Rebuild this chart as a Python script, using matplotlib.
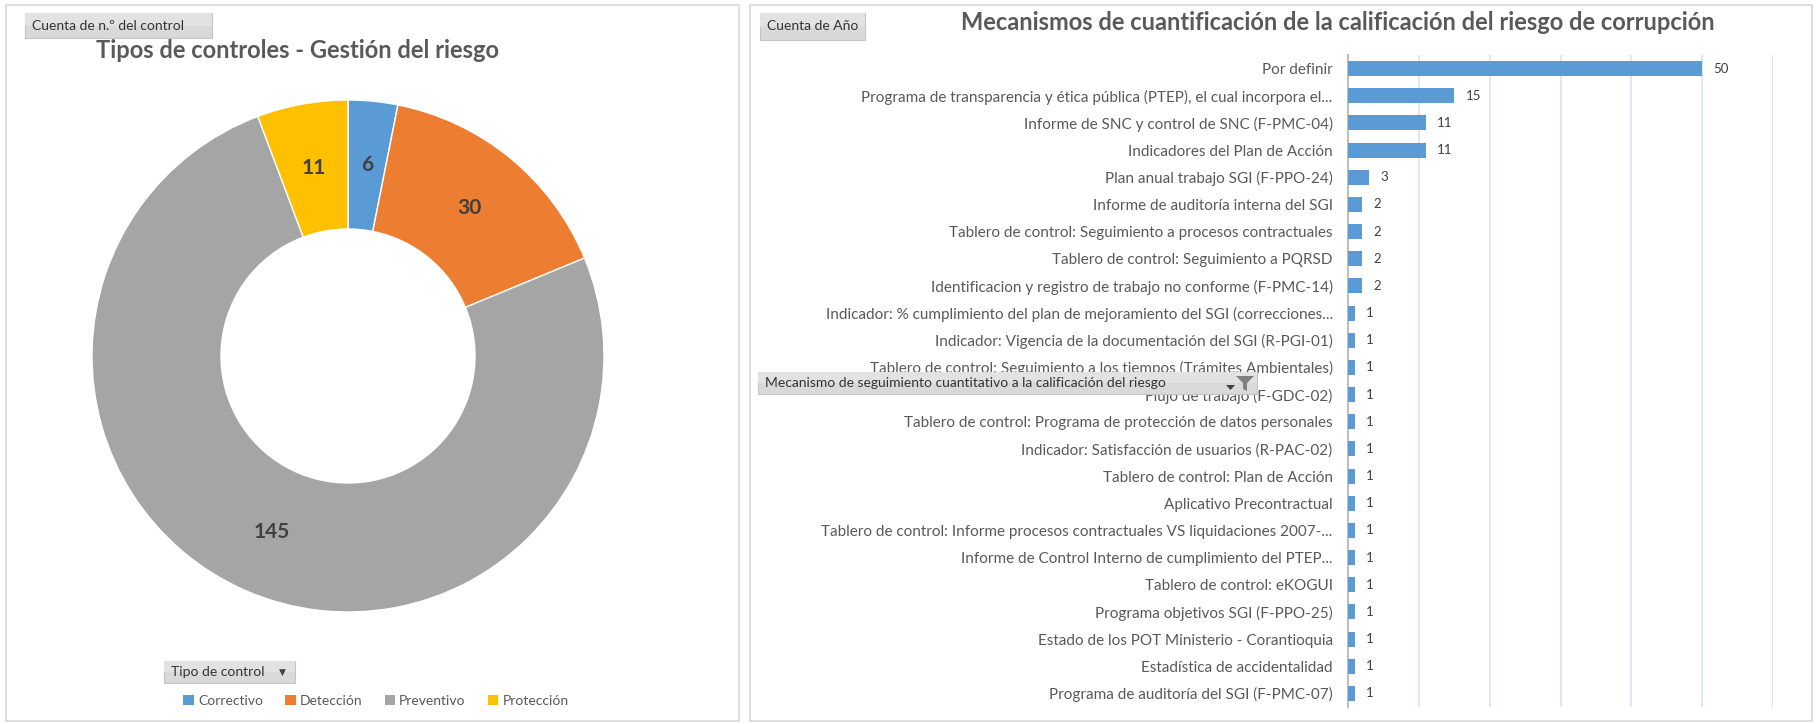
import matplotlib
matplotlib.use("Agg")
import numpy as np
import matplotlib.pyplot as plt
from matplotlib.patches import Rectangle, Polygon
from matplotlib.transforms import Affine2D

plt.rcParams['font.family'] = ['Lato', 'DejaVu Sans']

# ---------------------------- data
tipos = ['Correctivo', 'Detección', 'Preventivo', 'Protección']
tipos_cuenta = [6, 30, 145, 11]
tipos_colores = ['#5B9BD5', '#ED7D31', '#A5A5A5', '#FFC000']

mecanismos = [
    'Por definir',
    'Programa de transparencia y ética pública (PTEP), el cual incorpora el...',
    'Informe de SNC y control de SNC (F-PMC-04)',
    'Indicadores del Plan de Acción',
    'Plan anual trabajo SGI (F-PPO-24)',
    'Informe de auditoría interna del SGI',
    'Tablero de control: Seguimiento a procesos contractuales',
    'Tablero de control: Seguimiento a PQRSD',
    'Identificacion y registro de trabajo no conforme (F-PMC-14)',
    'Indicador: % cumplimiento del plan de mejoramiento del SGI (correcciones...',
    'Indicador: Vigencia de la documentación del SGI (R-PGI-01)',
    'Tablero de control: Seguimiento a los tiempos (Trámites Ambientales)',
    'Flujo de trabajo (F-GDC-02)',
    'Tablero de control: Programa de protección de datos personales',
    'Indicador: Satisfacción de usuarios (R-PAC-02)',
    'Tablero de control: Plan de Acción',
    'Aplicativo Precontractual',
    'Tablero de control: Informe procesos contractuales VS liquidaciones 2007-...',
    'Informe de Control Interno de cumplimiento del PTEP...',
    'Tablero de control: eKOGUI',
    'Programa objetivos SGI (F-PPO-25)',
    'Estado de los POT Ministerio - Corantioquia',
    'Estadística de accidentalidad',
    'Programa de auditoría del SGI (F-PMC-07)',
]
mecanismos_cuenta = [50, 15, 11, 11, 3, 2, 2, 2, 2,
                     1, 1, 1, 1, 1, 1, 1, 1, 1, 1, 1, 1, 1, 1, 1]

W, H = 1819, 724
fig = plt.figure(figsize=(W / 100, H / 100), dpi=100)
px = Affine2D().scale(1 / W, -1 / H).translate(0, 1) + fig.transFigure   # pixel coords, origin top-left


def box(x0, y0, x1, y1, **kw):
    fig.add_artist(Rectangle((x0, y0), x1 - x0, y1 - y0, transform=px, **kw))


def button(x0, y0, x1, y1, text, arrow=False, size=10):
    box(x0, y0, x1, y1, facecolor='#D9D9D9', edgecolor='#C4C4C4', lw=0.8, zorder=5)
    box(x0, y0, x1, (y0 + y1) / 2, facecolor='#E2E2E2', edgecolor='none', zorder=5)
    fig.text(x0 + 7, (y0 + y1) / 2, text, transform=px, fontsize=size, color='#333333',
             va='center', ha='left', zorder=6)
    if arrow:
        fig.text(x1 - 13, (y0 + y1) / 2, '▼', transform=px, fontsize=6.5, color='#404040',
                 va='center', ha='center', zorder=6, family='DejaVu Sans')


# panel borders
box(6, 5, 739, 721, facecolor='none', edgecolor='#D9D9D9', lw=1.2)
box(750, 5, 1812, 721, facecolor='none', edgecolor='#D9D9D9', lw=1.2)

# ---------------------------- donut
cx, cy, half = 348, 356, 260
ax_pie = fig.add_axes([(cx - half) / W, (H - cy - half) / H, 2 * half / W, 2 * half / H])
wedges, _ = ax_pie.pie(tipos_cuenta, colors=tipos_colores, startangle=90, counterclock=False,
                       radius=256 / half,
                       wedgeprops=dict(width=(256 - 127) / half, edgecolor='white', linewidth=1))
ax_pie.set_xlim(-1, 1)
ax_pie.set_ylim(-1, 1)
for w, v in zip(wedges, tipos_cuenta):
    ang = np.deg2rad((w.theta1 + w.theta2) / 2)
    r = w.r - w.width / 2
    ax_pie.text(r * np.cos(ang), r * np.sin(ang), str(v), ha='center', va='center',
                fontsize=15, fontweight='bold', color='#404040')

fig.text(297, 51, 'Tipos de controles - Gestión del riesgo', transform=px, ha='center', va='center',
         fontsize=17, fontweight='bold', color='#595959')

leg = fig.legend(handles=wedges, labels=tipos, loc='center', bbox_to_anchor=(376 / W, 1 - 701 / H),
                 ncol=4, frameon=False, fontsize=10, handlelength=0.75, handleheight=0.75,
                 handletextpad=0.3, columnspacing=1.6, labelcolor='#595959')
for h in leg.legend_handles:
    h.set_edgecolor('none')

button(25, 13, 212, 38, 'Cuenta de n.º del control')
button(164, 661, 295, 683, 'Tipo de control', arrow=True)

# ---------------------------- bars
ax = fig.add_axes([1348 / W, (H - 707) / H, (1773 - 1348) / W, (707 - 55) / H])
ax.patch.set_alpha(0)
pos = list(range(len(mecanismos)))
bars = ax.barh(pos, mecanismos_cuenta, height=0.55, color='#5B9BD5', zorder=3)
ax.bar_label(bars, padding=8, fontsize=9.5, color='#404040')
ax.set_ylim(len(mecanismos) - 0.5, -0.5)
ax.set_xlim(0, 60)
ax.set_xticks(range(0, 61, 10))
ax.tick_params(axis='x', length=0, labelbottom=False)
ax.set_yticks(pos, mecanismos)
ax.tick_params(axis='y', length=0, pad=11, labelsize=11, labelcolor='#595959')
ax.grid(axis='x', color='#D6E4F5', lw=1.2, zorder=0)
for s in ['top', 'right', 'bottom']:
    ax.spines[s].set_visible(False)
ax.spines['left'].set_color('#BFBFBF')
ax.spines['left'].set_linewidth(1.5)

fig.text(1338, 23, 'Mecanismos de cuantificación de la calificación del riesgo de corrupción', transform=px,
         ha='center', va='center', fontsize=17, fontweight='bold', color='#595959')
button(760, 13, 865, 40, 'Cuenta de Año')

# filter button overlapping the category labels
button(758, 372, 1257, 394, 'Mecanismo de seguimiento cuantitativo a la calificación del riesgo')
fig.add_artist(Polygon([(1236, 376), (1254, 376), (1247, 383), (1247, 391), (1243, 389), (1243, 383)],
                       closed=True, transform=px, facecolor='#7F7F7F', edgecolor='none', zorder=6))
fig.add_artist(Polygon([(1226, 385), (1235, 385), (1230.5, 390)], closed=True, transform=px,
                       facecolor='#404040', edgecolor='none', zorder=6))

plt.savefig("out.png", dpi=100)
